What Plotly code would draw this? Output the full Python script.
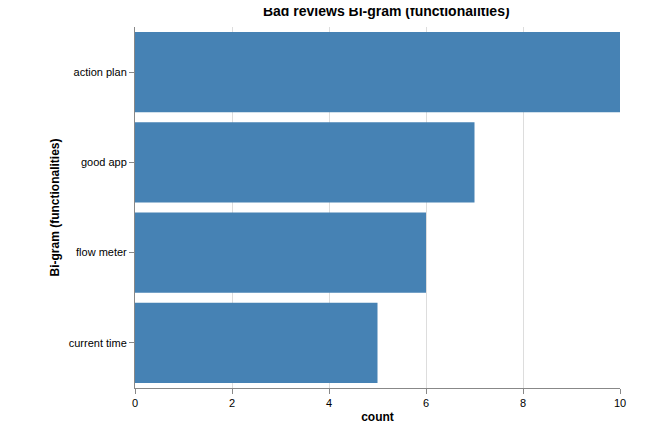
import plotly.graph_objects as go

bigrams = ['action plan', 'good app', 'flow meter', 'current time']
counts = [10, 7, 6, 5]

fig = go.Figure()
fig.add_trace(go.Bar(
    x=counts,
    y=bigrams,
    orientation='h',
    marker=dict(color='#4682b4', line=dict(width=0)),
    width=0.89,
))

fig.update_layout(
    width=666, height=435,
    margin=dict(l=127, r=54, t=19, b=55),
    plot_bgcolor='white', paper_bgcolor='white',
    font=dict(family='Liberation Sans, Arial', size=11, color='black'),
    title=dict(text='<b>Bad reviews Bi-gram (functionalities)</b>', x=0.568, xanchor='center',
               y=0.993, yanchor='middle', font=dict(size=14)),
    showlegend=False,
    bargap=0.1,
)
fig.update_xaxes(
    range=[0, 10], dtick=2, showgrid=True, gridcolor='#dddddd', gridwidth=1,
    showline=True, linecolor='#888888', ticks='outside', ticklen=5, tickcolor='#888888',
    title=dict(text='<b>count</b>', font=dict(size=12), standoff=4),
    tickfont=dict(size=11), zeroline=False,
)
fig.update_yaxes(
    categoryorder='array', categoryarray=bigrams[::-1],
    showline=True, linecolor='#888888', ticks='outside', ticklen=5, tickcolor='#888888',
    title=dict(text='<b>Bi-gram (functionalities)</b>', font=dict(size=12), standoff=6),
    tickfont=dict(size=11), showgrid=False,
)

fig.write_html('out.html')
